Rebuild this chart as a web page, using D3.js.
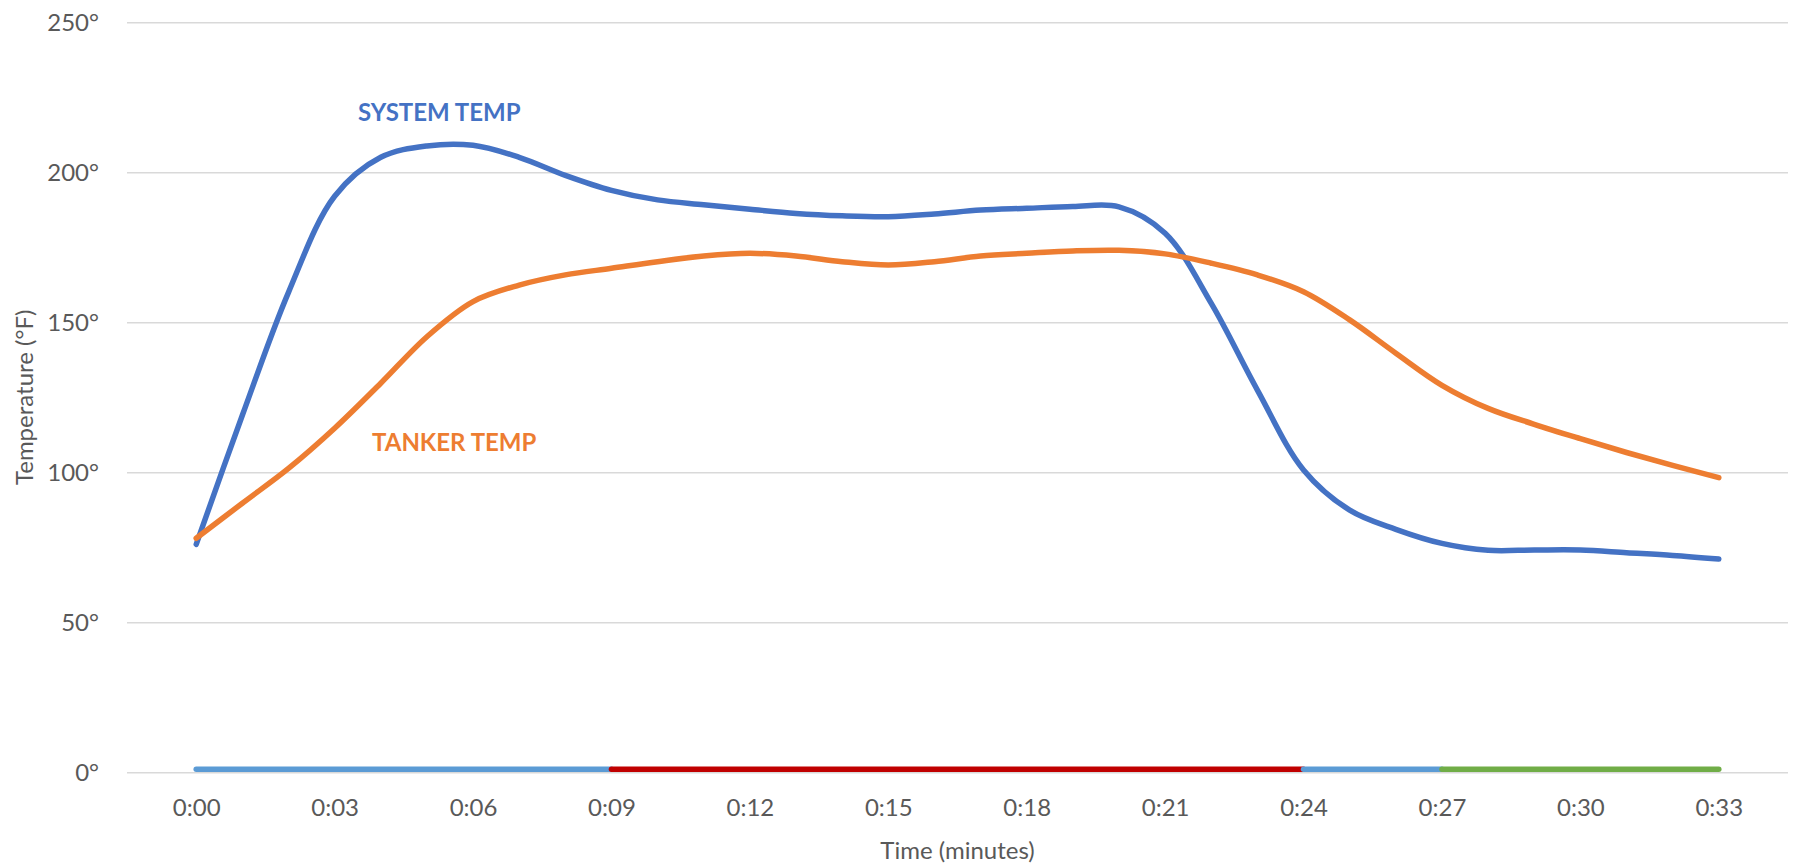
<!DOCTYPE html>
<html>
<head>
<meta charset="utf-8">
<script src="https://cdn.jsdelivr.net/npm/d3@7"></script>
<style>
  html, body { margin: 0; padding: 0; background: #fff; }
  svg { display: block; }
  text { font-family: Lato, "Open Sans", sans-serif; }
</style>
</head>
<body>
<svg id="chart" width="1801" height="867"></svg>
<script>
// ---- Data ----
const minutes = [0,1,2,3,4,5,6,7,8,9,10,11,12,13,14,15,16,17,18,19,20,21,22,23,24,25,26,27,28,29,30,31,32,33];
const systemTemp = [76,119,160,192,205,208.8,209,205,199,194,190.8,189.2,187.7,186.3,185.5,185.2,186.1,187.4,188,188.6,188.5,179.7,156.3,127.4,100.8,87.4,81,76.3,74,74.1,74.1,73.2,72.3,71.1];
const tankerTemp = [78,89.7,101.3,114.7,129.7,145.2,156.9,162.4,165.8,168,170.2,172.1,173,172.1,170.2,169.1,170.2,172.1,173,173.8,174,172.8,169.7,165.8,160.2,150.8,139.7,129,121.3,116,111.2,106.6,102.3,98.2];
const phaseStart = [0, 9, 24, 27];
const phaseEnd   = [9, 24, 27, 33];
const phaseColor = ["#5B9BD5", "#C00000", "#5B9BD5", "#70AD47"];
const phaseLevel = 1;
const yTicks = [0, 50, 100, 150, 200, 250];
const xTicks = [0, 3, 6, 9, 12, 15, 18, 21, 24, 27, 30, 33];
const seriesNames = ["SYSTEM TEMP", "TANKER TEMP"];
const seriesColors = ["#4472C4", "#ED7D31"];

(function () {
// ---- Layout ----
const svg = d3.select("#chart");
const pLeft = 127, pRight = 1788, pTop = 22.3, pBottom = 772.3;
const x = d3.scaleLinear().domain([-1.5, 34.5]).range([pLeft, pRight]);
const y = d3.scaleLinear().domain([0, 250]).range([pBottom, pTop]);
const textColor = "#595959";
const fontFam = "Lato, 'Open Sans', sans-serif";

// Y axis with gridlines
const yAxis = svg.append("g")
  .attr("transform", `translate(${pLeft},0)`)
  .call(d3.axisLeft(y).tickValues(yTicks).tickSize(-(pRight - pLeft)).tickPadding(28).tickFormat(d => d + "°"));
yAxis.select(".domain").remove();
yAxis.selectAll(".tick line").attr("stroke", "#D9D9D9").attr("stroke-width", 1.4);
yAxis.selectAll(".tick text")
  .attr("fill", textColor).attr("font-size", 24).attr("dy", "0.36em")
  .style("font-family", fontFam);

// X axis labels
const xAxis = svg.append("g")
  .attr("transform", `translate(0,${pBottom})`)
  .call(d3.axisBottom(x).tickValues(xTicks).tickSize(0).tickPadding(0)
    .tickFormat(d => "0:" + String(d).padStart(2, "0")));
xAxis.select(".domain").remove();
xAxis.selectAll(".tick text")
  .attr("fill", textColor).attr("font-size", 24).attr("y", 43.5).attr("dy", 0)
  .style("font-family", fontFam);

// Phase bar along the bottom
svg.append("g").selectAll("line")
  .data(phaseStart.map((s, i) => ({ s, e: phaseEnd[i], c: phaseColor[i] })))
  .join("line")
  .attr("x1", d => x(d.s)).attr("x2", d => x(d.e))
  .attr("y1", y(phaseLevel)).attr("y2", y(phaseLevel))
  .attr("stroke", d => d.c).attr("stroke-width", 5.5).attr("stroke-linecap", "round");

// Lines
const line = d3.line().x(d => x(d[0])).y(d => y(d[1])).curve(d3.curveCatmullRom.alpha(0.5));
[systemTemp, tankerTemp].forEach((vals, i) => {
  svg.append("path")
    .datum(minutes.map((m, j) => [m, vals[j]]))
    .attr("d", line)
    .attr("fill", "none")
    .attr("stroke", seriesColors[i])
    .attr("stroke-width", 5.5)
    .attr("stroke-linecap", "round")
    .attr("stroke-linejoin", "round");
});

// Series labels
svg.append("text").text(seriesNames[0])
  .attr("x", 358).attr("y", 121).attr("fill", seriesColors[0])
  .attr("font-size", 24).attr("font-weight", "bold");
svg.append("text").text(seriesNames[1])
  .attr("x", 372).attr("y", 450.5).attr("fill", seriesColors[1])
  .attr("font-size", 24).attr("font-weight", "bold");

// Axis titles
svg.append("text").text("Temperature (°F)")
  .attr("transform", `translate(33,${(pTop + pBottom) / 2}) rotate(-90)`)
  .attr("text-anchor", "middle").attr("fill", textColor).attr("font-size", 24);
svg.append("text").text("Time (minutes)")
  .attr("x", (pLeft + pRight) / 2).attr("y", 859)
  .attr("text-anchor", "middle").attr("fill", textColor).attr("font-size", 24);
})();
</script>
</body>
</html>
